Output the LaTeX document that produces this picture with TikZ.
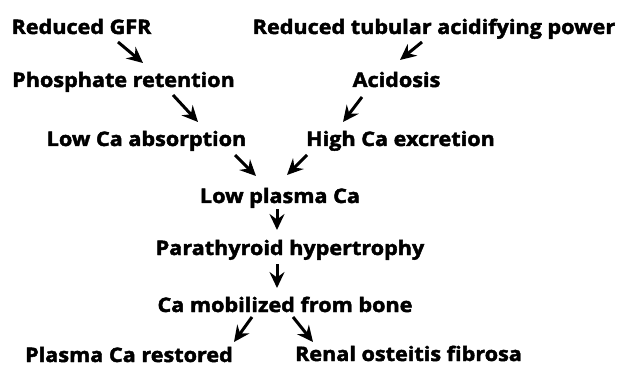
\documentclass[tikz,border=0pt]{standalone}
\usepackage{fontspec}
\setmainfont{Open Sans}[BoldFeatures={FakeBold=2.2, FakeStretch=1.08}]
\usetikzlibrary{arrows.meta}
\begin{document}
\begin{tikzpicture}[x=1pt, y=-1pt,
  lbl/.style={anchor=base, inner sep=0pt, font=\bfseries\fontsize{20}{24}\selectfont},
  ar/.style={draw=black, line width=3pt, -{Stealth[length=16pt, width=15pt, inset=5.5pt]}}]
\useasboundingbox (0,0) rectangle (618,366);
\node[lbl] (gfr) at (81.5,34) {Reduced GFR};
\node[lbl] (tub) at (434,34) {Reduced tubular acidifying power};
\node[lbl] (pho) at (123.5,87) {Phosphate retention};
\node[lbl] (aci) at (396.5,87) {Acidosis};
\node[lbl] (abs) at (146.5,146) {Low Ca absorption};
\node[lbl] (exc) at (400.5,146) {High Ca excretion};
\node[lbl] (pla) at (280,203) {Low plasma Ca};
\node[lbl] (par) at (290,255) {Parathyroid hypertrophy};
\node[lbl] (mob) at (285,312) {Ca mobilized from bone};
\node[lbl] (res) at (129,362) {Plasma Ca restored};
\node[lbl] (ren) at (408.5,361) {Renal osteitis fibrosa};
\draw[ar] ([xshift=36.5pt, yshift=-8pt]gfr.base) -- ([xshift=19.5pt, yshift=24pt]pho.base);
\draw[ar] ([xshift=-12pt, yshift=-8pt]tub.base) -- ([xshift=3.5pt, yshift=27pt]aci.base);
\draw[ar] ([xshift=49.5pt, yshift=-8pt]pho.base) -- ([xshift=51.5pt, yshift=24pt]abs.base);
\draw[ar] ([xshift=-34.5pt, yshift=-10pt]aci.base) -- ([xshift=-57.5pt, yshift=24pt]exc.base);
\draw[ar] ([xshift=88.5pt, yshift=-9pt]abs.base) -- ([xshift=-24pt, yshift=27pt]pla.base);
\draw[ar] ([xshift=-93.5pt, yshift=-9pt]exc.base) -- ([xshift=7pt, yshift=28pt]pla.base);
\draw[ar] ([xshift=-3pt, yshift=-6pt]pla.base) -- ([xshift=-13pt, yshift=25pt]par.base);
\draw[ar] ([xshift=-13pt, yshift=-9pt]par.base) -- ([xshift=-8pt, yshift=24pt]mob.base);
\draw[ar] ([xshift=-33pt, yshift=-5pt]mob.base) -- ([xshift=105pt, yshift=20pt]res.base);
\draw[ar] ([xshift=8pt, yshift=-5pt]mob.base) -- ([xshift=-95.5pt, yshift=19pt]ren.base);
\end{tikzpicture}
\end{document}
